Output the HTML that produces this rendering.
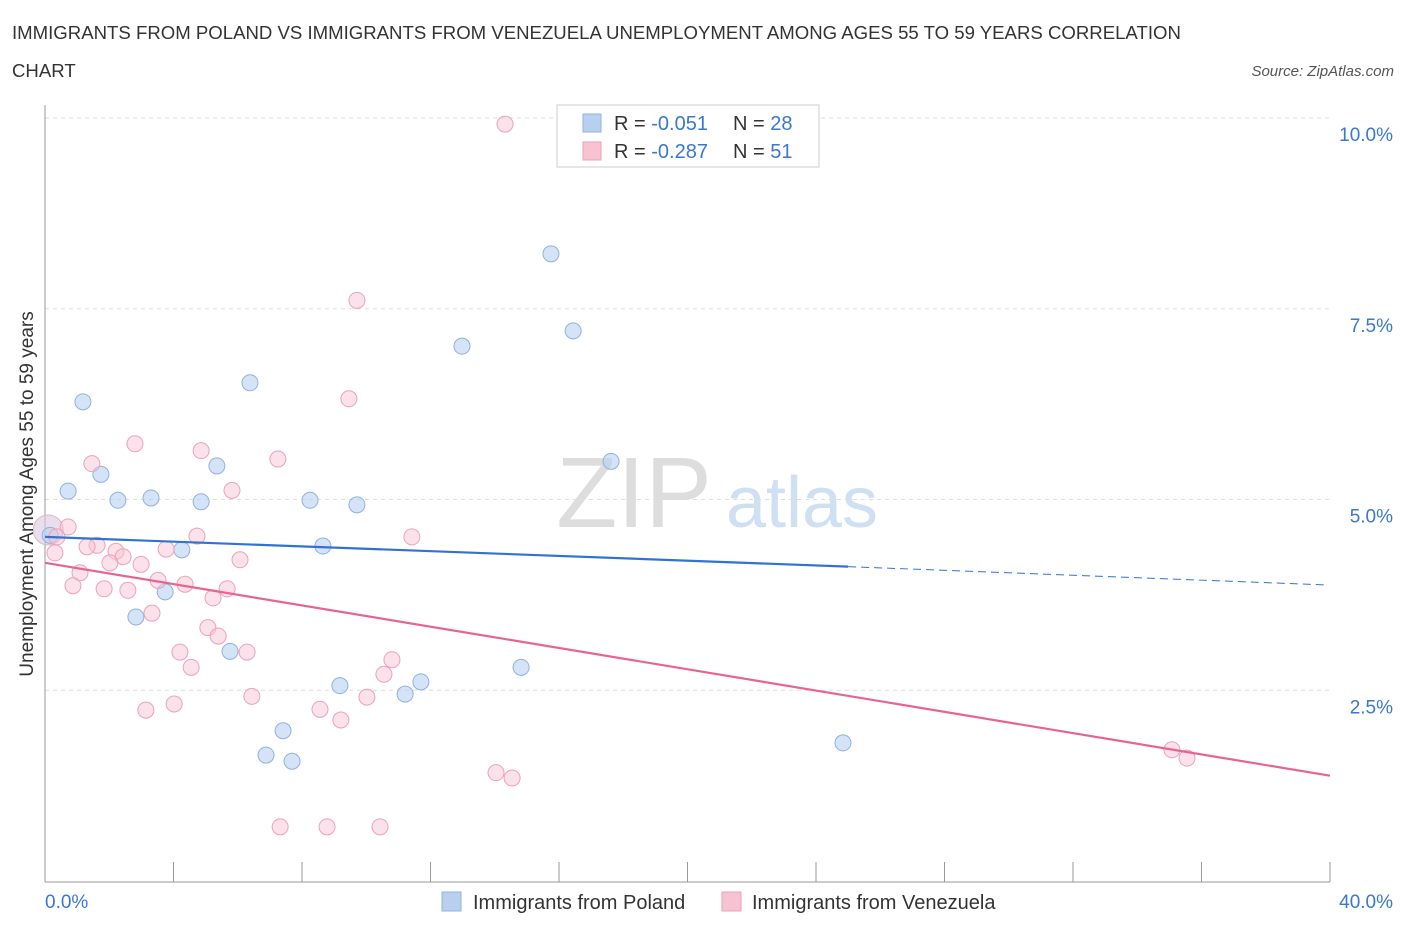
<!DOCTYPE html>
<html><head><meta charset="utf-8"><style>
body{margin:0;background:#fff;font-family:"Liberation Sans",sans-serif;}
svg text{font-family:"Liberation Sans",sans-serif;}
</style></head><body>
<svg id="chart" width="1406" height="930">
<text x="12" y="39" font-size="18.6" fill="#333">IMMIGRANTS FROM POLAND VS IMMIGRANTS FROM VENEZUELA UNEMPLOYMENT AMONG AGES 55 TO 59 YEARS CORRELATION</text>
<text x="12" y="77" font-size="18.6" fill="#333">CHART</text>
<text x="1394" y="76" font-size="15" fill="#555" font-style="italic" text-anchor="end">Source: ZipAtlas.com</text>
<text x="634" y="527" font-size="100" fill="#ddd" font-family="Liberation Serif" text-anchor="middle">ZIP</text>
<text x="802" y="527" font-size="72" fill="#cfe0f3" text-anchor="middle">atlas</text>
<g id="grid"></g><g id="axes"></g><g id="marks"></g>
<text x="33" y="494" font-size="19" fill="#333" text-anchor="middle" transform="rotate(-90 33 494)">Unemployment Among Ages 55 to 59 years</text>
<g>
<rect x="557" y="105" width="262" height="62" fill="#fff" stroke="#ccc"/>
<rect x="583" y="114" width="18" height="18" fill="#b8d0f0" stroke="#8fb2e0"/>
<rect x="583" y="142" width="18" height="18" fill="#f7c3d3" stroke="#eba2b8"/>
<text x="614" y="130" font-size="20" fill="#333">R = <tspan fill="#3a78d0">-0.051</tspan><tspan x="733">N = </tspan><tspan fill="#3a78d0">28</tspan></text>
<text x="614" y="158" font-size="20" fill="#333">R = <tspan fill="#3a78d0">-0.287</tspan><tspan x="733">N = </tspan><tspan fill="#3a78d0"> 51</tspan></text>
</g>
<g>
<rect x="442" y="892" width="19" height="19" fill="#b8d0f0" stroke="#8fb2e0"/>
<text x="473" y="909" font-size="20" fill="#333">Immigrants from Poland</text>
<rect x="722" y="892" width="19" height="19" fill="#f7c3d3" stroke="#eba2b8"/>
<text x="752" y="909" font-size="20" fill="#333">Immigrants from Venezuela</text>
</g>
</svg>
<script>
const yTicks=[2.5,5.0,7.5,10.0];
const yTickLabels=["2.5%","5.0%","7.5%","10.0%"];
const polandX=[0.16,0.72,1.18,1.74,2.27,3.30,2.83,3.74,4.26,4.86,5.35,5.76,6.38,6.88,7.41,7.69,8.25,8.65,9.18,9.71,11.21,11.70,12.98,14.82,15.75,16.44,17.62,24.84];
const polandY=[4.53,5.11,6.28,5.33,4.99,5.02,3.46,3.79,4.34,4.97,5.44,3.01,6.53,1.65,1.97,1.57,4.99,4.39,2.56,4.93,2.45,2.61,7.01,2.80,8.22,7.21,5.50,1.81];
const venX=[14.32,9.71,9.46,2.80,1.46,4.86,7.25,5.82,0.72,0.37,0.31,1.62,1.31,2.21,2.43,2.02,2.99,1.09,0.87,1.84,2.58,3.52,4.36,5.23,5.67,3.77,4.73,6.07,3.33,5.07,5.39,4.20,4.55,6.29,3.14,4.02,6.44,8.56,9.21,10.02,10.55,10.80,11.42,7.32,8.78,10.43,14.04,14.54,35.08,35.55];
const venY=[9.92,7.61,6.32,5.73,5.47,5.64,5.53,5.12,4.64,4.51,4.30,4.40,4.38,4.32,4.25,4.17,4.15,4.04,3.87,3.83,3.81,3.94,3.89,3.71,3.83,4.35,4.52,4.21,3.51,3.32,3.21,3.00,2.80,3.00,2.24,2.32,2.42,2.25,2.11,2.41,2.71,2.90,4.51,0.71,0.71,0.71,1.42,1.35,1.72,1.61];
const polandTrend=[4.51,4.12,3.88];
const polandTrendX=[0,25,39.9];
const venTrend=[4.17,1.38];
const venTrendX=[0,40];
const xTicks=[0,4,8,12,16,20,24,28,32,36,40];

const NS="http://www.w3.org/2000/svg";
const X=v=>45+v*(1285/40);
const Y=v=>881-v*76.3;
function mk(tag,attrs,parent){const e=document.createElementNS(NS,tag);for(const k in attrs)e.setAttribute(k,attrs[k]);document.getElementById(parent).appendChild(e);return e;}
yTicks.forEach((t,i)=>{
 const l=mk('line',{x1:45,x2:1330,y1:Y(t),y2:Y(t),stroke:'#ddd','stroke-dasharray':'4,4'},'grid');
 
 
 const tx=mk('text',{x:1393,y:Y(t)+23,'font-size':19,fill:'#3a78d0','text-anchor':'end'},'grid');
 tx.textContent=yTickLabels[i];
 
 
});
const tl=mk('line',{x1:45,x2:1330,y1:118,y2:118,stroke:'#ddd','stroke-dasharray':'4,4'},'grid');


const ya=mk('line',{x1:45,x2:45,y1:105,y2:882,stroke:'#999'},'axes');


const xa=mk('line',{x1:45,x2:1330,y1:882,y2:882,stroke:'#999'},'axes');


xTicks.forEach(t=>{
 const l=mk('line',{x1:X(t),x2:X(t),y1:862,y2:882,stroke:'#999'},'axes');
 
 
});
const xl0=mk('text',{x:45,y:908,'font-size':19,fill:'#3a78d0'},'axes');xl0.textContent='0.0%';


const xl1=mk('text',{x:1393,y:908,'font-size':19,fill:'#3a78d0','text-anchor':'end'},'axes');xl1.textContent='40.0%';



const big=mk('circle',{cx:X(0.1),cy:Y(4.6),r:15,fill:'rgba(220,200,225,0.6)',stroke:'#d7b8cc'},'marks');


polandX.forEach((v,i)=>{
 const c=mk('circle',{cx:X(v),cy:Y(polandY[i]),r:8,fill:'rgba(184,208,240,0.6)',stroke:'#8fb2e0','stroke-width':1},'marks');
 
 
});
venX.forEach((v,i)=>{
 const c=mk('circle',{cx:X(v),cy:Y(venY[i]),r:8,fill:'rgba(247,195,211,0.5)',stroke:'#eba2b8','stroke-width':1},'marks');
 
 
});
const pt1=mk('line',{x1:X(polandTrendX[0]),y1:Y(polandTrend[0]),x2:X(polandTrendX[1]),y2:Y(polandTrend[1]),stroke:'#2f73d4','stroke-width':2.2},'marks');


const pt2=mk('line',{x1:X(polandTrendX[1]),y1:Y(polandTrend[1]),x2:X(polandTrendX[2]),y2:Y(polandTrend[2]),stroke:'#2f73d4','stroke-width':1,'stroke-dasharray':'8,5'},'marks');


const vt=mk('line',{x1:X(venTrendX[0]),y1:Y(venTrend[0]),x2:X(venTrendX[1]),y2:Y(venTrend[1]),stroke:'#e8648e','stroke-width':2.2},'marks');


</script>
</body></html>
